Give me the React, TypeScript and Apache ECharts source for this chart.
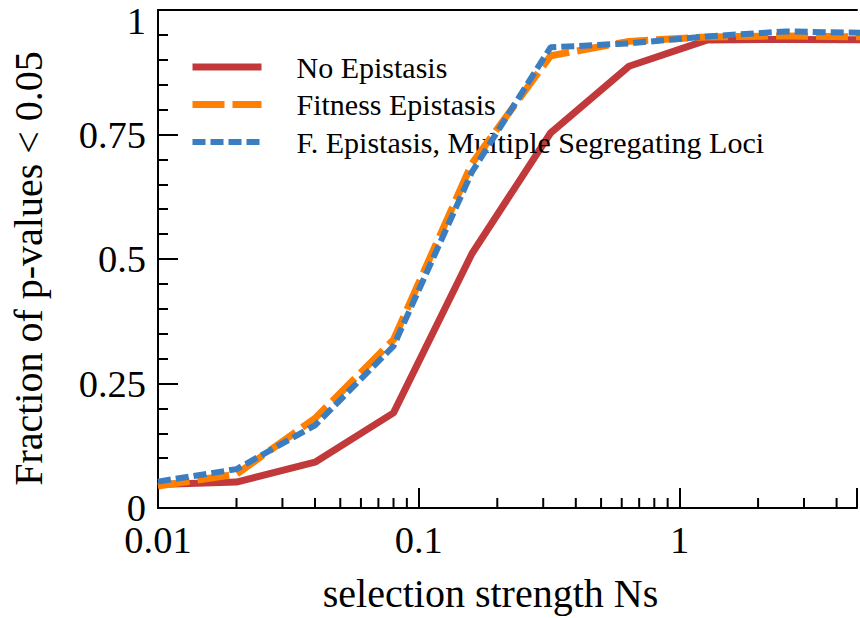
import React, { useEffect, useRef } from 'react';
import * as echarts from 'echarts';

const xValues = [0.01, 0.02, 0.04, 0.08, 0.16, 0.32, 0.64, 1.28, 2.56, 5.12];
const noEpistasis = [0.047, 0.052, 0.092, 0.191, 0.511, 0.753, 0.887, 0.94, 0.941, 0.94];
const fitnessEpistasis = [0.044, 0.068, 0.18, 0.338, 0.692, 0.908, 0.937, 0.946, 0.948, 0.946];
const multipleLoci = [0.053, 0.078, 0.166, 0.325, 0.675, 0.925, 0.933, 0.947, 0.957, 0.954];
const seriesNames = ['No Epistasis', 'Fitness Epistasis', 'F. Epistasis, Multiple Segregating Loci'];
const xMajorLabels = [0.01, 0.1, 1];
const xMinorTicks = [
  0.02, 0.03, 0.04, 0.05, 0.06, 0.07, 0.08, 0.09,
  0.2, 0.3, 0.4, 0.5, 0.6, 0.7, 0.8, 0.9,
  2, 3, 4,
];
const yTickLabels = ['0', '0.25', '0.5', '0.75', '1'];

const FONT = 'Liberation Serif';

export default function App() {
  const ref = useRef<HTMLDivElement>(null);
  useEffect(() => {
    if (!ref.current) return;
    const chart = echarts.init(ref.current, undefined, { renderer: 'svg' });
    const pairs = (ys: number[]) => xValues.map((x, i) => [x, ys[i]]);
    const option: any = {
      animation: false,
      backgroundColor: '#fff',
      grid: { left: 154, right: 0, top: 10, bottom: 109.3, containLabel: false },
      legend: {
        orient: 'vertical',
        left: 189,
        top: 52,
        padding: 0,
        itemWidth: 69,
        itemHeight: 14,
        itemGap: 7.5,
        data: seriesNames,
        itemStyle: { opacity: 0 },
        lineStyle: { width: 'inherit' },
        textStyle: {
          fontFamily: FONT,
          fontSize: 30,
          color: '#000',
          padding: [0, 0, 0, 30],
        },
      },
      xAxis: [
        {
          type: 'log',
          logBase: 10,
          min: 0.01,
          max: 4.79,
          name: 'selection strength Ns',
          nameLocation: 'middle',
          nameGap: 65,
          nameTextStyle: { fontFamily: FONT, fontSize: 40, color: '#000', padding: [0, 34, 0, 0] },
          axisLine: { show: true, lineStyle: { color: '#000', width: 2 } },
          axisTick: { show: true, inside: true, length: 20, lineStyle: { color: '#000', width: 2 } },
          splitLine: { show: false },
          axisLabel: {
            fontFamily: FONT,
            fontSize: 38.5,
            color: '#000',
            margin: 12,
            showMinLabel: true,
            showMaxLabel: true,
            formatter: (v: number) => {
              const m = xMajorLabels.find((t) => Math.abs(t - v) / t < 1e-6);
              return m === undefined ? '' : String(m);
            },
          },
        },
        {
          type: 'value',
          position: 'top',
          min: 0,
          max: 1,
          axisLine: { show: true, onZero: false, lineStyle: { color: '#000', width: 2 } },
          axisTick: { show: false },
          axisLabel: { show: false },
          splitLine: { show: false },
        },
      ],
      yAxis: {
        type: 'value',
        min: 0,
        max: 1,
        interval: 0.25,
        name: 'Fraction of p-values < 0.05',
        nameLocation: 'middle',
        nameGap: 110,
        nameTextStyle: { fontFamily: FONT, fontSize: 40, color: '#000', padding: [0, 19, 0, 0] },
        axisLine: { show: true, lineStyle: { color: '#000', width: 2 } },
        axisTick: { show: true, inside: true, length: 20, lineStyle: { color: '#000', width: 2 } },
        minorTick: { show: true, splitNumber: 5, length: 10, lineStyle: { color: '#000', width: 2 } },
        splitLine: { show: false },
        minorSplitLine: { show: false },
        axisLabel: {
          fontFamily: FONT,
          fontSize: 38.5,
          color: '#000',
          margin: 12,
          formatter: (v: number) => {
            const idx = Math.round(v / 0.25);
            const s = yTickLabels[idx];
            return idx === 4 ? '{top|' + s + '}' : s;
          },
          rich: {
            top: { fontFamily: FONT, fontSize: 38.5, color: '#000', padding: [22, 0, 0, 0] },
          },
        },
      },
      series: [
        {
          name: seriesNames[0],
          type: 'line',
          data: pairs(noEpistasis),
          symbol: 'none',
          lineStyle: { color: '#c1393a', width: 7 },
          itemStyle: { color: '#c1393a' },
          z: 3,
        },
        {
          name: seriesNames[1],
          type: 'line',
          data: pairs(fitnessEpistasis),
          symbol: 'none',
          lineStyle: { color: '#ff7f00', width: 7, type: [32, 8] },
          itemStyle: { color: '#ff7f00' },
          z: 4,
        },
        {
          name: seriesNames[2],
          type: 'line',
          data: pairs(multipleLoci),
          symbol: 'none',
          lineStyle: { color: '#3a7dc0', width: 6, type: [13, 5] },
          itemStyle: { color: '#3a7dc0' },
          z: 5,
        },
        {
          name: 'minorTicks',
          type: 'custom',
          silent: true,
          z: 10,
          data: xMinorTicks.map((v) => [v, 0]),
          encode: { x: 0, y: 1 },
          renderItem: (params: any, api: any) => {
            const p = api.coord([api.value(0), 0]);
            return {
              type: 'line',
              shape: { x1: p[0], y1: p[1], x2: p[0], y2: p[1] - 10 },
              style: { stroke: '#000', lineWidth: 2 },
            };
          },
        },
      ],
    };
    chart.setOption(option);
    return () => chart.dispose();
  }, []);
  return (
    <div
      ref={ref}
      style={{ position: 'fixed', left: 0, top: 0, width: 860, height: 618, background: '#fff' }}
    />
  );
}
